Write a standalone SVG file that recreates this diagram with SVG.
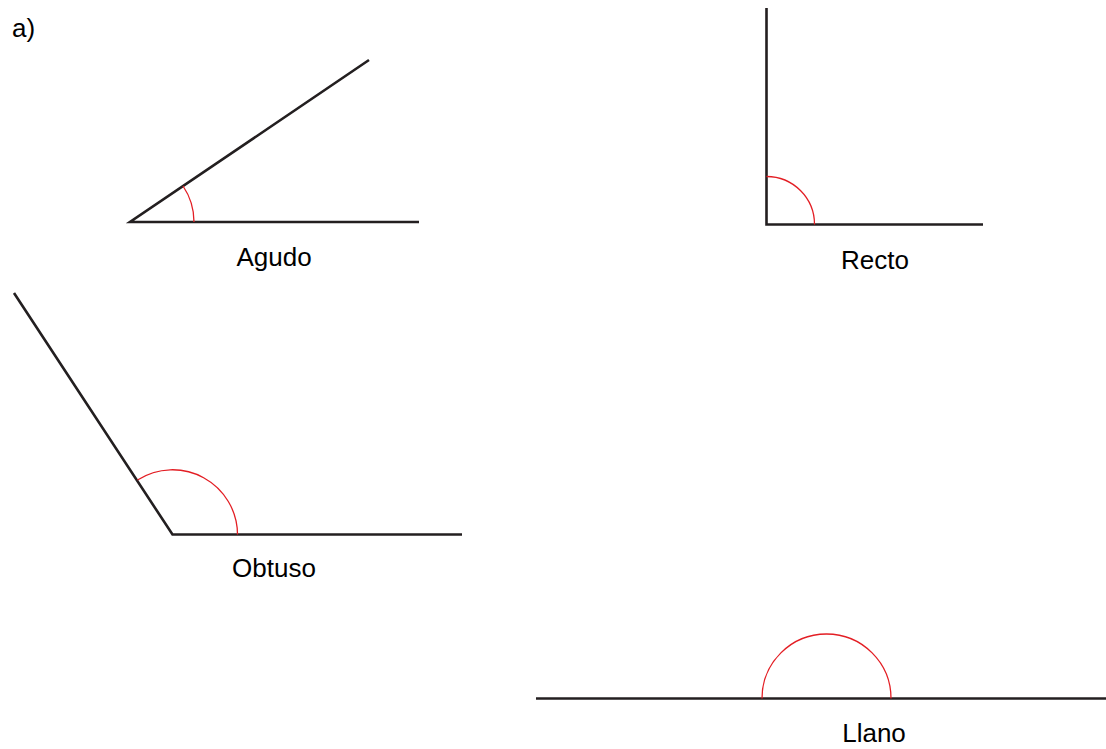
<svg xmlns="http://www.w3.org/2000/svg" width="1106" height="749" viewBox="0 0 1106 749">
<style>
.ray{stroke:#231f20;stroke-width:2.6;fill:none}
.arc{stroke:#e31e24;stroke-width:1.3;fill:none}
.lbl{font-family:"Liberation Sans",Arial,sans-serif;font-size:26px;fill:#000;text-anchor:middle}
</style>
<rect width="1106" height="749" fill="#fff"/>
<text x="12" y="37" class="lbl" style="text-anchor:start">a)</text>
<g id="agudo">
<path class="ray" d="M419 222 L130 222 L369 60"/>
<path class="arc" d="M183 186 A64 64 0 0 1 194 222"/>
<text x="274" y="266" class="lbl">Agudo</text>
</g>
<g id="recto">
<path class="ray" d="M766.5 8 L766.5 224.5 L983 224.5"/>
<path class="arc" d="M766.5 176.5 A48 48 0 0 1 814.5 224.5"/>
<text x="875" y="269" class="lbl">Recto</text>
</g>
<g id="obtuso">
<path class="ray" d="M14 293 L172.5 534.5 L462 534.5"/>
<path class="arc" d="M137.5 480 A65 65 0 0 1 237.5 534.5"/>
<text x="274" y="577" class="lbl">Obtuso</text>
</g>
<g id="llano">
<path class="ray" d="M536 698.5 L1106 698.5"/>
<path class="arc" d="M762 698.5 A64.5 64.5 0 0 1 891 698.5"/>
<text x="874" y="742" class="lbl">Llano</text>
</g>
</svg>
